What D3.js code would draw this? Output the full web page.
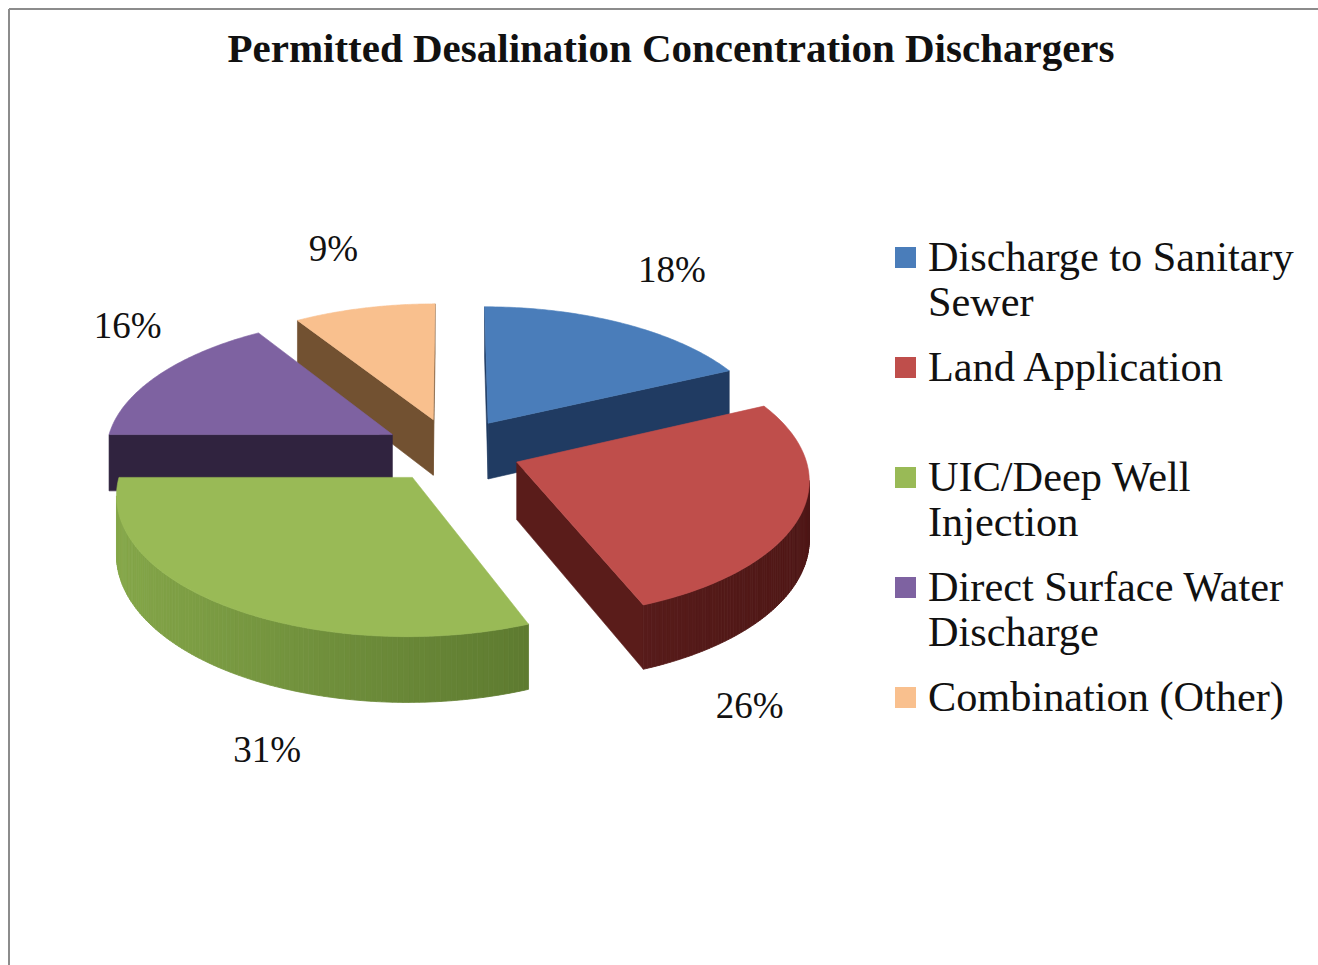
<!DOCTYPE html>
<html>
<head>
<meta charset="utf-8">
<script src="https://cdn.jsdelivr.net/npm/d3@7"></script>
<style>
  body { margin: 0; background: #fff; }
  svg { display: block; font-family: "Liberation Serif", "Times New Roman", serif; }
</style>
</head>
<body>
<div id="chart"></div>
<script>
const width = 1318;
const height = 965;

// data
const title = 'Permitted Desalination Concentration Dischargers';
const categories = [
  'Discharge to Sanitary Sewer',
  'Land Application',
  'UIC/Deep Well Injection',
  'Direct Surface Water Discharge',
  'Combination (Other)',
];
const legendLines = [
  ['Discharge to Sanitary', 'Sewer'],
  ['Land Application'],
  ['UIC/Deep Well', 'Injection'],
  ['Direct Surface Water', 'Discharge'],
  ['Combination (Other)'],
];
const shares = [18, 26, 31, 16, 9];

// styles
const topColors = ['#4a7dba', '#bf4e4b', '#99ba56', '#7e62a1', '#f9c08e'];
const wallColors = ['#203b62', '#5a1c1a', '#5a7a2c', '#30233f', '#725131'];
const curveDark = ['#1c3556', '#4e1716', '#4b6624', '#2a1f38', '#5e4228'];
const curveLight = ['#2c4f80', '#6a2422', '#86a84a', '#3b2c4f', '#8a6640'];
// label nudges from the slice's outer mid point (px)
const labelNudge = [[49, -54], [-51, 190], [41, 143], [-32, -49], [-31, -60]];

// 3d pie geometry
const cx = 452, cy = 450;
const Rx = 287, Ry = 135;   // ellipse radii of the top face
const D = 9;                // camera distance (in pie radii)
const H = 57;               // thickness
const explode = 0.24;

function project(u, v, h) {
  const s = D / (D - v);
  return [cx + Rx * u * s, cy + Ry * v * s + H * h * s];
}

const svg = d3.select('#chart')
  .append('svg')
  .attr('width', width)
  .attr('height', height);

// frame (top and left edges visible)
svg.append('line').attr('x1', 9).attr('x2', width).attr('y1', 9).attr('y2', 9)
  .attr('stroke', '#8c8c8c').attr('stroke-width', 2);
svg.append('line').attr('x1', 9).attr('x2', 9).attr('y1', 9).attr('y2', height)
  .attr('stroke', '#8c8c8c').attr('stroke-width', 2);

svg.append('text')
  .attr('x', 671)
  .attr('y', 62)
  .attr('text-anchor', 'middle')
  .attr('font-weight', 'bold')
  .attr('font-size', 41)
  .attr('fill', '#111')
  .text(title);

const pie = d3.pie().sort(null).value((d) => d);
const total = d3.sum(shares);
const fmt = d3.format('.0%');

const slices = pie(shares).map((a, i) => {
  const mid = (a.startAngle + a.endAngle) / 2;
  return {
    i,
    a0: a.startAngle,
    a1: a.endAngle,
    mid,
    cu: explode * Math.sin(mid),
    cv: -explode * Math.cos(mid),
    value: a.data,
  };
});

const line = d3.line();
const g = svg.append('g').attr('class', 'pie');

function ptAt(sl, th, r, h) {
  return project(sl.cu + r * Math.sin(th), sl.cv - r * Math.cos(th), h);
}

// back to front
const order = slices.slice().sort((a, b) => a.cv - b.cv);

order.forEach((sl) => {
  const sg = g.append('g');
  const camU = -sl.cu, camV = D - sl.cv;

  // radial walls
  const walls = [
    { th: sl.a0, n: [-Math.cos(sl.a0), -Math.sin(sl.a0)] },
    { th: sl.a1, n: [Math.cos(sl.a1), Math.sin(sl.a1)] },
  ];
  walls.forEach((w) => {
    if (camU * w.n[0] + camV * w.n[1] <= 0.02) return;
    const pts = [
      ptAt(sl, w.th, 0, 0), ptAt(sl, w.th, 1, 0),
      ptAt(sl, w.th, 1, 1), ptAt(sl, w.th, 0, 1),
    ];
    sg.append('path')
      .attr('d', line(pts) + 'Z')
      .attr('fill', wallColors[sl.i])
      .attr('stroke', wallColors[sl.i])
      .attr('stroke-width', 0.6);
  });

  // curved outer wall, drawn as shaded strips
  const steps = 120;
  const shade = d3.interpolateRgb(curveDark[sl.i], curveLight[sl.i]);
  for (let k = 0; k < steps; k++) {
    const t0 = sl.a0 + (sl.a1 - sl.a0) * k / steps;
    const t1 = sl.a0 + (sl.a1 - sl.a0) * (k + 1) / steps;
    const tm = (t0 + t1) / 2;
    const pu = sl.cu + Math.sin(tm), pv = sl.cv - Math.cos(tm);
    const vis = (-pu) * Math.sin(tm) + (D - pv) * (-Math.cos(tm));
    if (vis <= 0) continue;
    const pts = [ptAt(sl, t0, 1, 0), ptAt(sl, t1, 1, 0), ptAt(sl, t1, 1, 1), ptAt(sl, t0, 1, 1)];
    const c = shade((1 - Math.sin(tm)) / 2);
    sg.append('path')
      .attr('d', line(pts) + 'Z')
      .attr('fill', c)
      .attr('stroke', c)
      .attr('stroke-width', 0.8);
  }

  // top face
  const top = [ptAt(sl, sl.a0, 0, 0)];
  const n = 80;
  for (let k = 0; k <= n; k++) {
    top.push(ptAt(sl, sl.a0 + (sl.a1 - sl.a0) * k / n, 1, 0));
  }
  sg.append('path')
    .attr('d', line(top) + 'Z')
    .attr('fill', topColors[sl.i])
    .attr('stroke', topColors[sl.i])
    .attr('stroke-width', 0.6);
});

// data labels
svg.append('g')
  .selectAll('text')
  .data(slices)
  .join('text')
  .attr('x', (d) => ptAt(d, d.mid, 1, 0)[0] + labelNudge[d.i][0])
  .attr('y', (d) => ptAt(d, d.mid, 1, 0)[1] + labelNudge[d.i][1])
  .attr('dy', '0.35em')
  .attr('text-anchor', 'middle')
  .attr('font-size', 37)
  .attr('fill', '#111')
  .text((d) => fmt(d.value / total));

// legend
const legend = svg.append('g')
  .attr('class', 'legend')
  .attr('transform', 'translate(895, 257)');

const item = legend.selectAll('g')
  .data(categories)
  .join('g')
  .attr('transform', (d, i) => `translate(0, ${i * 110})`);

item.append('rect')
  .attr('x', 0)
  .attr('y', -10)
  .attr('width', 21)
  .attr('height', 21)
  .attr('fill', (d, i) => topColors[i]);

item.append('text')
  .attr('font-size', 42.3)
  .attr('fill', '#111')
  .selectAll('tspan')
  .data((d, i) => legendLines[i])
  .join('tspan')
  .attr('x', 33)
  .attr('y', (d, j) => j * 45)
  .attr('dy', '0.33em')
  .text((d) => d);
</script>
</body>
</html>
